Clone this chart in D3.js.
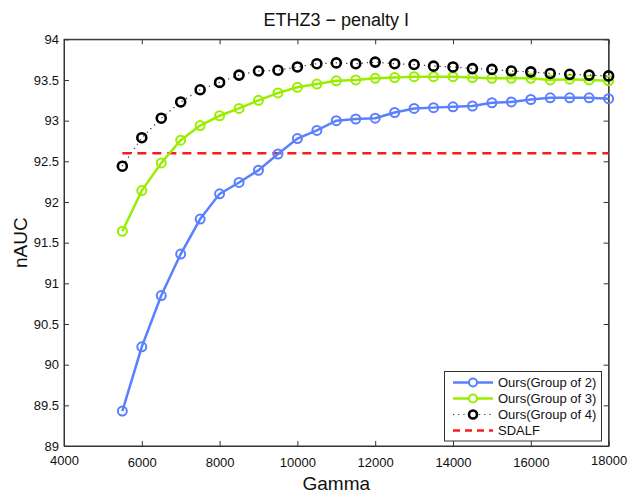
<!DOCTYPE html>
<html><head><meta charset="utf-8">
<script src="https://cdn.jsdelivr.net/npm/d3@7"></script>
<style>body{margin:0;background:#fff;} text{font-family:"Liberation Sans",Arial,sans-serif;}</style>
</head><body>
<svg id="c" width="630" height="493"></svg>
<script>
const gamma = [5500,6000,6500,7000,7500,8000,8500,9000,9500,10000,10500,11000,11500,12000,12500,13000,13500,14000,14500,15000,15500,16000,16500,17000,17500,18000];
const group2 = [89.43,90.22,90.85,91.36,91.79,92.10,92.24,92.39,92.59,92.78,92.88,93.00,93.02,93.03,93.10,93.15,93.16,93.17,93.18,93.22,93.23,93.26,93.28,93.28,93.28,93.27];
const group3 = [91.64,92.14,92.48,92.76,92.94,93.06,93.15,93.25,93.34,93.41,93.45,93.49,93.50,93.52,93.53,93.54,93.54,93.54,93.53,93.52,93.52,93.52,93.50,93.51,93.50,93.49];
const group4 = [92.44,92.79,93.03,93.23,93.38,93.47,93.56,93.61,93.62,93.66,93.70,93.71,93.70,93.72,93.70,93.69,93.67,93.66,93.64,93.63,93.61,93.60,93.58,93.57,93.56,93.55];
const sdalf = 92.60;
const xTicks = [4000,6000,8000,10000,12000,14000,16000,18000];
const yTicks = [89,89.5,90,90.5,91,91.5,92,92.5,93,93.5,94];
const seriesNames = ["Ours(Group of 2)","Ours(Group of 3)","Ours(Group of 4)","SDALF"];
const title = "ETHZ3 \u2212 penalty I";
const xLabel = "Gamma", yLabel = "nAUC";

const L=64, R=608.6, T=39.3, B=446;
const svg = d3.select("#c");
const x = d3.scaleLinear().domain([4000,18000]).range([L,R]);
const y = d3.scaleLinear().domain([89,94]).range([B,T]);
const axisCol = "#333";

// frame
svg.append("rect").attr("x",L).attr("y",T).attr("width",R-L).attr("height",B-T)
  .attr("fill","none").attr("stroke",axisCol).attr("stroke-width",1);

// bottom axis
const gx = svg.append("g").attr("transform",`translate(0,${B})`)
  .call(d3.axisBottom(x).tickValues(xTicks).tickFormat(d3.format("d")).tickSizeInner(-5).tickSizeOuter(0).tickPadding(12));
gx.selectAll("text").attr("font-size",13).attr("fill","#111")
  .attr("dy", d=> (d===4000||d===18000) ? "0.55em" : "0.71em");
// top ticks
svg.append("g").attr("transform",`translate(0,${T})`)
  .call(d3.axisTop(x).tickValues(xTicks).tickFormat("").tickSizeInner(-5).tickSizeOuter(0));
// left axis
const gy = svg.append("g").attr("transform",`translate(${L},0)`)
  .call(d3.axisLeft(y).tickValues(yTicks).tickFormat(d=>d3.format("")(d)).tickSizeInner(-5).tickSizeOuter(0).tickPadding(5));
gy.selectAll("text").attr("font-size",13).attr("fill","#111");
// right ticks
svg.append("g").attr("transform",`translate(${R},0)`)
  .call(d3.axisRight(y).tickValues(yTicks).tickFormat("").tickSizeInner(-5).tickSizeOuter(0));
svg.selectAll(".domain").attr("stroke",axisCol);
svg.selectAll(".tick line").attr("stroke",axisCol);

// SDALF
svg.append("line").attr("x1",x(gamma[0])).attr("x2",x(gamma[gamma.length-1]))
  .attr("y1",y(sdalf)).attr("y2",y(sdalf))
  .attr("stroke","#ff1a1a").attr("stroke-width",2.5).attr("stroke-dasharray","9,6");

const line = d3.line().x(d=>x(d[0])).y(d=>y(d[1]));
const series = [
  {vals:group2, color:"#5b80ff", lw:2.5, dash:null, mk:"#5b80ff", mw:2},
  {vals:group3, color:"#99ee00", lw:2.5, dash:null, mk:"#99ee00", mw:2},
  {vals:group4, color:"#333", lw:1.2, dash:"1.2,4", mk:"#000", mw:2.6}
];
series.forEach(s=>{
  const pts = gamma.map((g,i)=>[g,s.vals[i]]);
  svg.append("path").datum(pts).attr("d",line).attr("fill","none")
    .attr("stroke",s.color).attr("stroke-width",s.lw)
    .attr("stroke-dasharray",s.dash);
  svg.append("g").selectAll("circle").data(pts).join("circle")
    .attr("cx",d=>x(d[0])).attr("cy",d=>y(d[1])).attr("r",4.5)
    .attr("fill","none").attr("stroke",s.mk).attr("stroke-width",s.mw);
});

// legend
const lg = svg.append("g");
lg.append("rect").attr("x",444.5).attr("y",371.5).attr("width",157).attr("height",69.5)
  .attr("fill","#fff").attr("stroke",axisCol).attr("stroke-width",1);
const rowsY=[382.5,398.5,414.5,430.5];
const legendStyles = [series[0],series[1],series[2],{color:"#ff1a1a",lw:2.5,dash:"7,5",mk:null}];
legendStyles.forEach((s,i)=>{
  lg.append("line").attr("x1",453).attr("x2",493).attr("y1",rowsY[i]).attr("y2",rowsY[i])
    .attr("stroke",s.color).attr("stroke-width",s.lw).attr("stroke-dasharray",s.dash);
  if(s.mk) lg.append("circle").attr("cx",473).attr("cy",rowsY[i]).attr("r",4)
    .attr("fill","#fff").attr("stroke",s.mk).attr("stroke-width",s.mw);
  lg.append("text").attr("x",498).attr("y",rowsY[i]).attr("dy","0.35em")
    .attr("font-size",13).attr("fill","#111").text(seriesNames[i]);
});

// titles
svg.append("text").attr("x",(L+R)/2).attr("y",26).attr("text-anchor","middle")
  .attr("font-size",18).attr("fill","#111").text(title);
svg.append("text").attr("x",(L+R)/2).attr("y",490).attr("text-anchor","middle")
  .attr("font-size",19).attr("fill","#111").text(xLabel);
svg.append("text").attr("transform",`translate(27,${(T+B)/2}) rotate(-90)`).attr("text-anchor","middle")
  .attr("font-size",19).attr("fill","#111").text(yLabel);
</script>
</body></html>
